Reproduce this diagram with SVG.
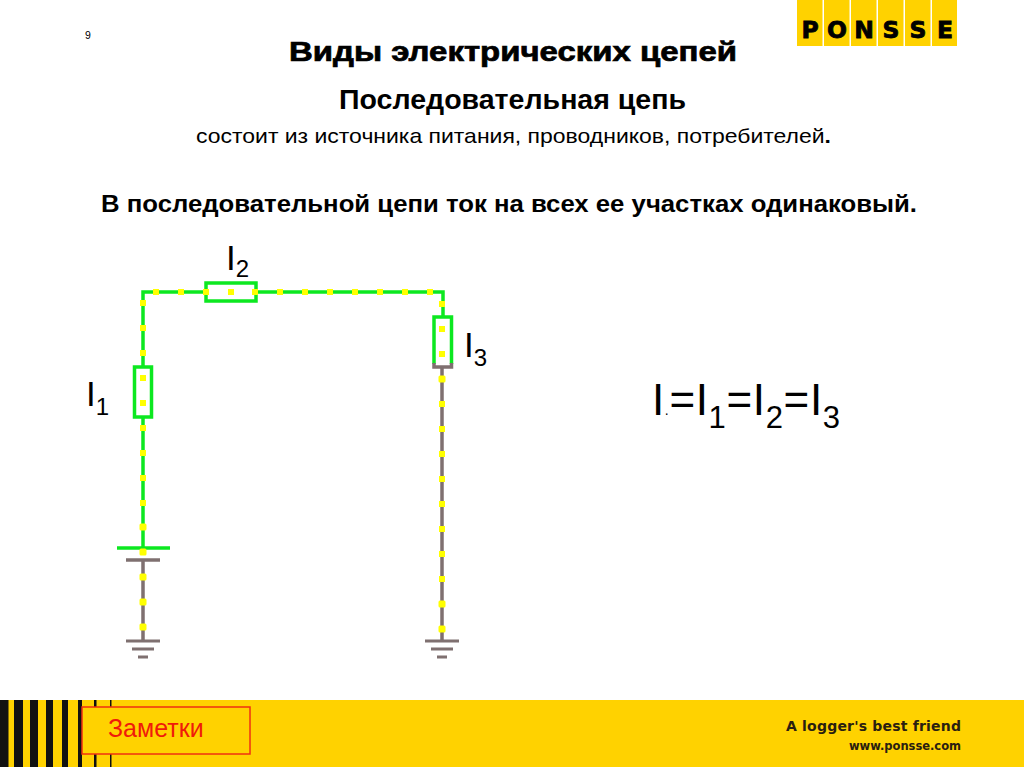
<svg xmlns="http://www.w3.org/2000/svg" width="1024" height="767" viewBox="0 0 1024 767">
<style>
text{font-family:"Liberation Sans",Arial,sans-serif;fill:#000}
.b{font-weight:bold}
.g{stroke:#0ce820;fill:none;stroke-width:3.5}
.w{stroke:#7f7070;fill:none;stroke-width:3.5}
.l{font-size:35px}
.s{font-size:24px}
.e{font-size:44px}
.es{font-size:31px}
</style>
<defs>
<rect id="d" x="-3" y="-3" width="6" height="6" fill="#ffff00"/>
<rect id="D" x="-3.500" y="-3.500" width="7" height="7" rx="1.500" fill="#ffff00"/>
</defs>
<rect width="1024" height="767" fill="#fff"/>
<g id="logo">
<g fill="#ffd200">
<rect x="797" y="0" width="25.500" height="46"/><rect x="824" y="0" width="25.500" height="46"/><rect x="851" y="0" width="25.500" height="46"/><rect x="878" y="0" width="25.500" height="46"/><rect x="905" y="0" width="25.500" height="46"/><rect x="932" y="0" width="25" height="46"/>
</g>
<g font-size="23.500" text-anchor="middle" style="font-weight:bold" stroke="#000" stroke-width=".8">
<text x="810" y="38" style="font-family:'DejaVu Sans',sans-serif">P</text><text x="837" y="38" style="font-family:'DejaVu Sans',sans-serif">O</text><text x="864" y="38" style="font-family:'DejaVu Sans',sans-serif">N</text><text x="891" y="38" style="font-family:'DejaVu Sans',sans-serif">S</text><text x="918" y="38" style="font-family:'DejaVu Sans',sans-serif">S</text><text x="945" y="38" style="font-family:'DejaVu Sans',sans-serif">E</text>
</g>
</g>
<g id="page-number"><text x="85" y="39" font-size="10.500">9</text></g>
<g id="headings">
<text class="b" x="289" y="61" font-size="27" textLength="448" lengthAdjust="spacingAndGlyphs" stroke="#000" stroke-width=".7">Виды электрических цепей</text>
<text class="b" x="339" y="109" font-size="27" textLength="347" lengthAdjust="spacingAndGlyphs">Последовательная цепь</text>
<text x="196" y="143" font-size="21" textLength="635" lengthAdjust="spacingAndGlyphs">состоит из источника питания, проводников, потребителей<tspan class="b">.</tspan></text>
<text class="b" x="101" y="212" font-size="24" textLength="816" lengthAdjust="spacingAndGlyphs">В последовательной цепи ток на всех ее участках одинаковый.</text>
</g>
<g id="connectors">
<path class="g" d="M143 367V292H205M256 292H443V317M143 417V548"/>
<path class="w" d="M143 560V641M442 367V641"/>
</g>
<g id="resistor-1"><rect class="g" x="134.500" y="367" width="17" height="50"/></g>
<g id="resistor-2"><rect class="g" x="206" y="283" width="50" height="18"/></g>
<g id="resistor-3">
<path class="g" d="M434 364V317H451.500V364"/>
<path class="w" d="M434 363V367H451.500V363"/>
</g>
<g id="battery">
<path d="M117 548H170" stroke="#0ce820" stroke-width="3.500"/>
<path d="M126 560H160" stroke="#7f7070" stroke-width="3.500"/>
</g>
<g id="ground-1" stroke="#7f7070" stroke-width="3">
<path d="M126 641H160M132 649H154M138 657H148"/>
</g>
<g id="ground-2" stroke="#7f7070" stroke-width="3">
<path d="M425 641H459M431 649H453M437 657H447"/>
</g>
<g id="dots">
<use href="#d" x="156" y="292"/><use href="#d" x="181" y="292"/><use href="#d" x="206" y="292"/><use href="#d" x="231" y="292"/><use href="#d" x="255" y="292"/><use href="#d" x="280" y="292"/><use href="#d" x="305" y="292"/><use href="#d" x="330" y="292"/><use href="#d" x="355" y="292"/><use href="#d" x="380" y="292"/><use href="#d" x="405" y="292"/><use href="#d" x="430" y="292"/>
<use href="#d" x="143" y="303"/><use href="#d" x="143" y="328"/><use href="#d" x="143" y="353"/><use href="#d" x="143" y="378"/><use href="#d" x="143" y="403"/><use href="#d" x="143" y="428"/><use href="#d" x="143" y="453"/><use href="#d" x="143" y="478"/><use href="#d" x="143" y="503"/><use href="#D" x="143" y="527"/><use href="#D" x="143" y="552"/><use href="#D" x="143" y="577"/><use href="#D" x="143" y="602"/><use href="#D" x="143" y="627"/>
<use href="#d" x="442" y="304"/><use href="#d" x="442" y="329"/><use href="#d" x="442" y="354"/><use href="#D" x="442" y="379"/><use href="#d" x="442" y="404"/><use href="#d" x="442" y="429"/><use href="#d" x="442" y="454"/><use href="#d" x="442" y="479"/><use href="#d" x="442" y="504"/><use href="#d" x="442" y="529"/><use href="#d" x="442" y="554"/><use href="#d" x="442" y="579"/><use href="#D" x="442" y="604"/><use href="#D" x="442" y="629"/>
</g>
<g id="labels">
<text class="l" x="226" y="270">I<tspan class="s" dy="7">2</tspan></text>
<text class="l" x="86" y="406">I<tspan class="s" dy="9">1</tspan></text>
<text class="l" x="464" y="357">I<tspan class="s" dy="9">3</tspan></text>
<text class="e" x="652" y="415" textLength="188">I<tspan font-size="14">.</tspan>=I<tspan class="es" dy="13">1</tspan><tspan dy="-13">=I</tspan><tspan class="es" dy="13">2</tspan><tspan dy="-13">=I</tspan><tspan class="es" dy="13">3</tspan></text>
</g>
<g id="footer">
<rect x="0" y="700" width="1024" height="67" fill="#ffd200"/>
<g fill="#111">
<rect x="0" y="700" width="8.500" height="67"/><rect x="14" y="700" width="9" height="67"/><rect x="30" y="700" width="8" height="67"/><rect x="46" y="700" width="7" height="67"/><rect x="62" y="700" width="6" height="67"/><rect x="78" y="700" width="4" height="67"/><rect x="94" y="700" width="2.500" height="67"/><rect x="110" y="700" width="1.500" height="67"/>
</g>
<g id="notes">
<rect x="82" y="707" width="168" height="47" fill="#ffd200" stroke="#f03010" stroke-width="1.500"/>
<text x="108" y="737" font-size="25" style="fill:#f01a0a">Заметки</text>
</g>
<text x="786" y="731" font-size="14" textLength="175" style="font-family:'DejaVu Sans',sans-serif;font-weight:bold;fill:#2a2010">A logger's best friend</text>
<text x="849" y="750" font-size="11.500" textLength="112" style="font-family:'DejaVu Sans',sans-serif;font-weight:bold;fill:#2a2010">www.ponsse.com</text>
</g>
</svg>
